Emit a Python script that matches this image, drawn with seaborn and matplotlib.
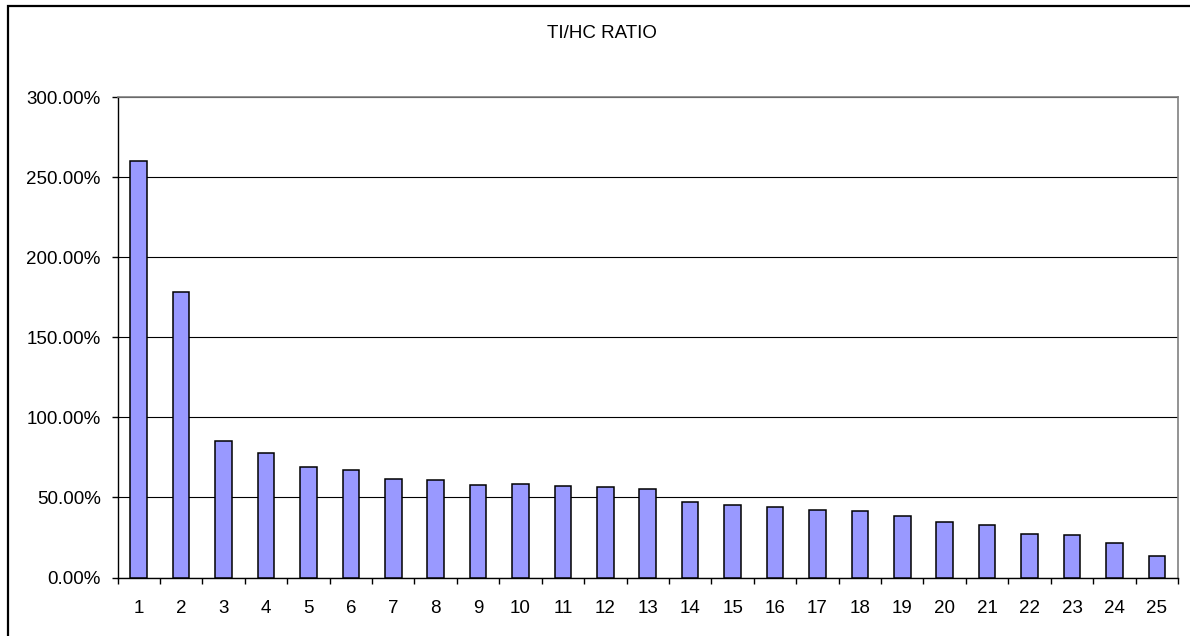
import matplotlib
matplotlib.use("Agg")
import matplotlib.pyplot as plt
from matplotlib.patches import Rectangle
from matplotlib.ticker import PercentFormatter, FixedLocator
import seaborn as sns
import pandas as pd

# TI/HC ratio per rank (fractions: 1.0 == 100%)
ranks = [str(i) for i in range(1, 26)]
ratios = [2.60, 1.78, 0.852, 0.777, 0.691, 0.673, 0.617, 0.608, 0.579,
          0.581, 0.571, 0.563, 0.552, 0.469, 0.450, 0.442, 0.423, 0.415,
          0.386, 0.346, 0.330, 0.273, 0.263, 0.217, 0.134]
y_ticks = [0.0, 0.5, 1.0, 1.5, 2.0, 2.5, 3.0]
title = "TI/HC RATIO"

sns.set_theme(style="white")
plt.rcParams["font.family"] = ["Liberation Sans", "DejaVu Sans"]

df = pd.DataFrame({"rank": ranks, "ratio": ratios})

fig = plt.figure(figsize=(11.9, 6.36), dpi=100)
ax = fig.add_axes([117.5 / 1190, 1 - 577.5 / 636,
                   (1178 - 117.5) / 1190, (577.5 - 97) / 636])

sns.barplot(data=df, x="rank", y="ratio", order=ranks, color="#9999FF",
            saturation=1, edgecolor="black", linewidth=1.1, width=0.39, ax=ax,
            zorder=3)

ax.set_xlim(-0.5, len(ranks) - 0.5)
ax.set_ylim(0, 3.0)
ax.set_yticks(y_ticks)
ax.yaxis.set_major_formatter(PercentFormatter(1.0, decimals=2))
ax.set_xlabel("")
ax.set_ylabel("")

# horizontal gridlines
ax.yaxis.grid(True, color="black", linewidth=0.8)
ax.set_axisbelow(True)

# spines
for side in ("left", "bottom"):
    ax.spines[side].set_color("black")
    ax.spines[side].set_linewidth(1.0)
for side in ("top", "right"):
    ax.spines[side].set_color("#808080")
    ax.spines[side].set_linewidth(1.2)

# ticks: y outward, x labels centred with ticks between categories
ax.tick_params(axis="y", which="major", direction="out", length=4,
               width=1.0, color="black", left=True, pad=8,
               labelsize=13.5, labelcolor="black")
ax.tick_params(axis="x", which="major", length=0, pad=16,
               labelsize=13.5, labelcolor="black")
ax.xaxis.set_minor_locator(FixedLocator([i - 0.5 for i in range(len(ranks) + 1)]))
ax.tick_params(axis="x", which="minor", direction="out", length=4,
               width=1.0, color="black", bottom=True)

fig.text(601.7 / 1190, 1 - 33 / 636, title, ha="center", va="center",
         fontsize=13.5, color="black")

# chart frame
fig.patches.append(Rectangle((8 / 1190, -0.02), 1.1, 1 - 6 / 636 + 0.02,
                             transform=fig.transFigure, fill=False,
                             edgecolor="black", linewidth=1.6))

fig.savefig("out.png", dpi=100, facecolor="white")
